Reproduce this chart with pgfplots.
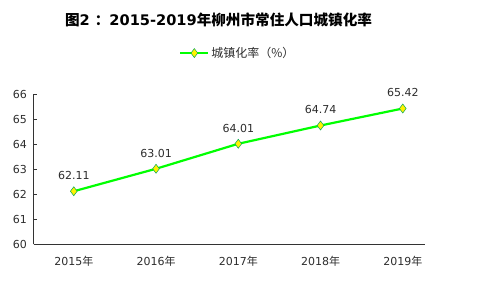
\documentclass[border=0pt]{standalone}
\usepackage{fontspec}
\setmainfont{DejaVu Sans}
\newfontfamily\cjk{Noto Sans CJK SC}
\usepackage{pgfplots}
\pgfplotsset{compat=1.18}
\definecolor{lgreen}{RGB}{0,255,0}
\definecolor{txt}{RGB}{45,45,45}
\begin{document}
\begin{tikzpicture}[x=1bp,y=1bp]
\useasboundingbox (0,0) rectangle (480,288);
\node[font=\fontsize{14.6bp}{17bp}\selectfont\bfseries] at (218.5,268) {{\cjk\bfseries 图}2 {\cjk\bfseries ：}2015-2019{\cjk\bfseries 年柳州市常住人口城镇化率}};
\begin{axis}[
  scale only axis, width=391.5bp, height=150bp,
  at={(33.5bp,44bp)}, anchor=south west,
  xmin=-0.49, xmax=4.27, ymin=60, ymax=66,
  axis lines*=left, axis line style={-, color=black!80, line width=0.8pt},
  tick align=inside, major tick length=3bp,
  tick style={black!80, line width=0.6pt},
  xtick={0,1,2,3,4}, xticklabels={2015{\cjk 年},2016{\cjk 年},2017{\cjk 年},2018{\cjk 年},2019{\cjk 年}},
  x tick style={draw=none},
  extra x ticks={0.5,1.5,2.5,3.5}, extra x tick labels={},
  extra x tick style={tick style={black!80, line width=0.6pt}},
  ytick={60,61,...,66},
  /pgf/number format/assume math mode=true,
  ticklabel style={font=\fontsize{11bp}{12bp}\selectfont, text=txt},
  xticklabel style={yshift=-9bp},
  yticklabel style={xshift=-3bp},
  nodes near coords,
  nodes near coords style={font=\fontsize{11bp}{12bp}\selectfont, text=txt, yshift=8bp,
    /pgf/number format/.cd, fixed, fixed zerofill, precision=2, assume math mode=true},
  legend style={at={(0.522,1.273)}, anchor=center, draw=none, fill=none,
    font=\fontsize{12bp}{13bp}\selectfont\cjk, text=txt, legend columns=1},
  legend image code/.code={
    \draw[#1, mark repeat=2, mark phase=2] plot coordinates {(0bp,0bp) (14bp,0bp) (28bp,0bp)};},
  clip=false,
]
\addplot[lgreen, line width=2.2bp, mark=diamond*, mark size=4.5bp,
  mark options={fill=yellow, draw=teal!70!lgreen, line width=0.5pt}]
  coordinates {(0,62.11) (1,63.01) (2,64.01) (3,64.74) (4,65.42)};
\addlegendentry{城镇化率（\%）}
\end{axis}
\end{tikzpicture}
\end{document}
